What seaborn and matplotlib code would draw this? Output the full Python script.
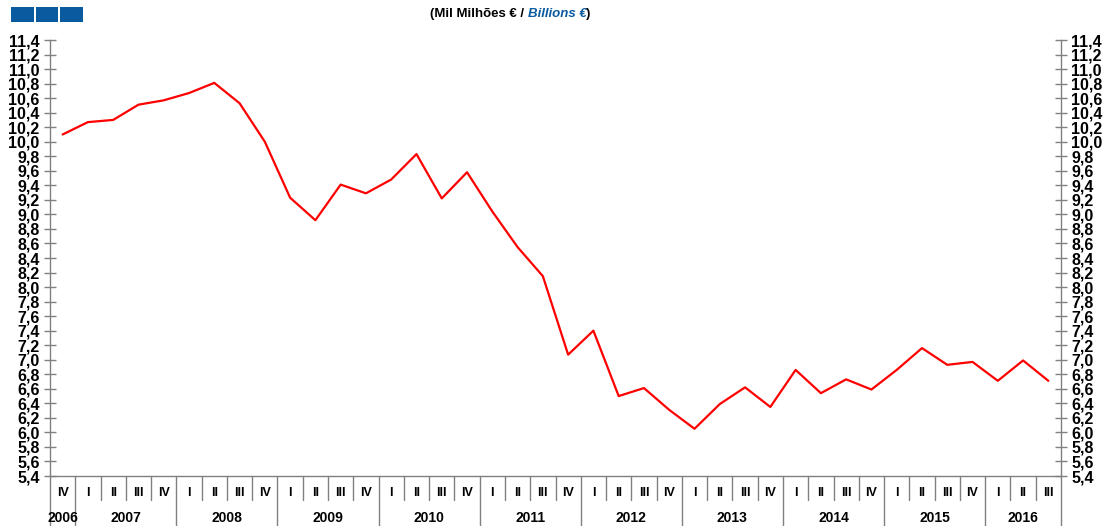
import numpy as np

import pandas as pd

import matplotlib.pyplot as plt

import matplotlib.transforms as mtransforms

from matplotlib.patches import Rectangle

import seaborn as sns

# quarters from 2006 IV to 2016 III
years = [2006, 2007, 2008, 2009, 2010, 2011, 2012, 2013, 2014, 2015, 2016]

quarters_per_year = [1, 4, 4, 4, 4, 4, 4, 4, 4, 4, 3]

quarter_names = ["I", "II", "III", "IV"]

values = [
    10.10,
    10.27, 10.30, 10.51, 10.57,
    10.67, 10.81, 10.53, 10.00,
    9.23, 8.92, 9.41, 9.29,
    9.48, 9.83, 9.22, 9.58,
    9.04, 8.55, 8.15, 7.07,
    7.40, 6.50, 6.61, 6.31,
    6.05, 6.39, 6.62, 6.35,
    6.86, 6.54, 6.73, 6.59,
    6.86, 7.16, 6.93, 6.97,
    6.71, 6.99, 6.71
]

y_ticks = np.round(np.arange(5.4, 11.41, 0.2), 1)

quarter_labels = []

year_of_point = []

for year, n in zip(years, quarters_per_year):

    start = 3 if year == 2006 else 0

    for q in range(start, start + n):

        quarter_labels.append(quarter_names[q])

        year_of_point.append(year)

df = pd.DataFrame({
    "pos": np.arange(len(values)),
    "value": values,
    "quarter": quarter_labels,
    "year": year_of_point
})

sns.set_style("white")

plt.rcParams["font.family"] = ["Liberation Sans", "DejaVu Sans"]

plt.rcParams["text.color"] = "black"

fig = plt.figure(figsize=(11.08, 5.26), dpi=100)

ax = fig.add_axes([50 / 1108, 50 / 526, 1011 / 1108, 436 / 526])

sns.lineplot(
    data=df,
    x="pos",
    y="value",
    color="#ff0000",
    linewidth=1.6,
    ax=ax
)

ax.set_xlim(-0.5, len(values) - 0.5)

ax.set_ylim(5.4, 11.4)

ax.set_xlabel("")

ax.set_ylabel("")

ax.set_xticks([])

ax.set_yticks(y_ticks)

ax.set_yticklabels([f"{v:.1f}".replace(".", ",") for v in y_ticks])

ax.tick_params(
    axis="y",
    direction="inout",
    length=9,
    width=1,
    color="#808080",
    labelcolor="black",
    labelsize=11.5,
    pad=3,
    left=True,
    right=True,
    labelleft=True,
    labelright=True
)

for lab in ax.get_yticklabels():
    lab.set_fontweight("bold")

ax.spines["top"].set_visible(False)

for side in ["left", "right", "bottom"]:
    ax.spines[side].set_color("#808080")
    ax.spines[side].set_linewidth(1)

ax.grid(False)

trans = mtransforms.blended_transform_factory(ax.transData, ax.transAxes)

# quarter labels and separators
for i, row in df.iterrows():

    ax.text(
        row["pos"],
        -0.039,
        row["quarter"],
        transform=trans,
        ha="center",
        va="center",
        fontsize=9,
        fontweight="bold",
        color="black"
    )

year_ends = np.cumsum(quarters_per_year)

for i in range(len(values) - 1):

    bottom = -0.115 if (i + 1) in year_ends else -0.055

    ax.plot(
        [i + 0.5, i + 0.5],
        [0, bottom],
        transform=trans,
        color="#808080",
        linewidth=1,
        clip_on=False
    )

for edge in [-0.5, len(values) - 0.5]:

    ax.plot(
        [edge, edge],
        [0, -0.115],
        transform=trans,
        color="#808080",
        linewidth=1,
        clip_on=False
    )

# year labels
start = 0

for year, n in zip(years, quarters_per_year):

    center = start + (n - 1) / 2

    ax.text(
        center,
        -0.096,
        str(year),
        transform=trans,
        ha="center",
        va="center",
        fontsize=10,
        fontweight="bold",
        color="black"
    )

    start += n

# blue blocks top left
for k in range(3):

    fig.patches.append(
        Rectangle(
            ((11 + k * 24.5) / 1108, 1 - 22 / 526),
            22.5 / 1108,
            15 / 526,
            transform=fig.transFigure,
            facecolor="#0a5aa0",
            edgecolor="none"
        )
    )

# title in two colours
fig.canvas.draw()

renderer = fig.canvas.get_renderer()

t1 = fig.text(
    430 / 1108,
    1 - 14 / 526,
    "(Mil Milhões € / ",
    ha="left",
    va="center",
    fontsize=9.5,
    fontweight="bold",
    color="black"
)

bb = t1.get_window_extent(renderer)

t2 = fig.text(
    bb.x1 / fig.bbox.width,
    1 - 14 / 526,
    "Billions €",
    ha="left",
    va="center",
    fontsize=9.5,
    fontweight="bold",
    fontstyle="italic",
    color="#0a5aa0"
)

bb2 = t2.get_window_extent(renderer)

fig.text(
    bb2.x1 / fig.bbox.width,
    1 - 14 / 526,
    ")",
    ha="left",
    va="center",
    fontsize=9.5,
    fontweight="bold",
    color="black"
)

plt.savefig("out.png", dpi=100)
